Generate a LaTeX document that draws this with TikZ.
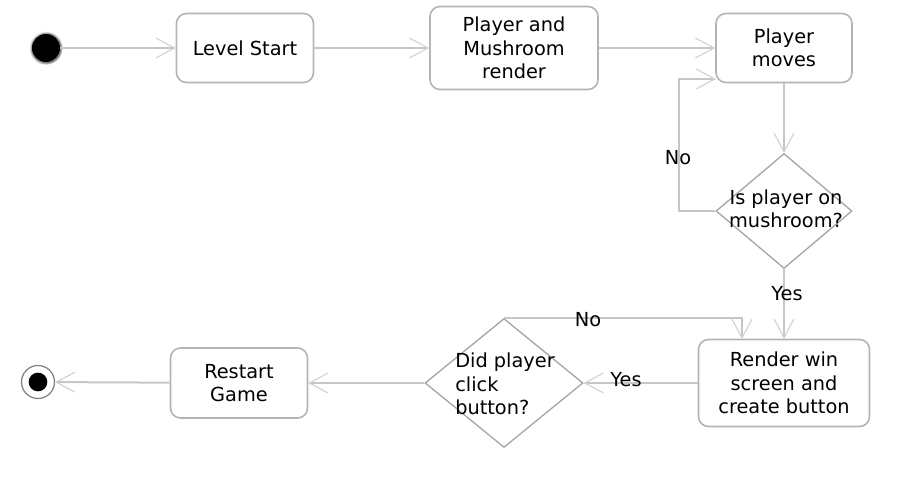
\documentclass[tikz,border=0pt]{standalone}
\usepackage{fontspec}
\setmainfont{DejaVu Sans}
\usetikzlibrary{shapes.geometric, arrows.meta, calc, shadows}

\definecolor{boxgray}{HTML}{B4B4B4}
\definecolor{linegray}{HTML}{C6C6C6}
\definecolor{tipgray}{HTML}{CFCFCF}
\definecolor{diagray}{HTML}{A6A6A6}

\begin{document}
\begin{tikzpicture}[
  x=0.75pt, y=-0.75pt,
  every node/.style={font=\fontsize{14.5}{17.6}\selectfont, align=center},
  state/.style={rectangle, rounded corners=7.5pt, draw=boxgray, line width=1.2pt,
    minimum width=102.75pt, minimum height=51.75pt, inner sep=0pt},
  decision/.style={diamond, draw=diagray, line width=1pt, inner sep=0pt},
  initial/.style={circle, fill=black, minimum size=21pt, inner sep=0pt,
    circular drop shadow={shadow xshift=0pt, shadow yshift=0pt, shadow scale=1.2}},
  final/.style={circle, draw=gray, line width=0.9pt, fill=white, minimum size=24.75pt,
    inner sep=0pt, path picture={\fill[black] (path picture bounding box.center) circle (7pt);}},
  flow/.style={draw=linegray, line width=1.5pt,
    -{Straight Barb[length=14pt, width=15pt, line width=0.8pt, color=tipgray]}}
]
\useasboundingbox (0,0) rectangle (903,477);

% top row
\node[initial] (start) at (46,48) {};
\node[state] (ls) at (245,48) {Level Start};
\node[state, minimum width=126pt, minimum height=62.25pt] (pmr) at (514,48) {Player and\\Mushroom\\render};
\node[state, minimum width=102pt] (pm) at (784,48) {Player\\moves};

% first decision
\node[decision, minimum width=102pt, minimum height=86.25pt] (onm) at (784,211) {};
\node (onmtxt) at (786,209) {Is player on\\mushroom?};
\coordinate (noin) at (716,79);

% bottom row
\node[state, minimum width=128.25pt, minimum height=65.25pt] (rw) at (784,383) {Render win\\screen and\\create button};
\node[decision, minimum width=118.5pt, minimum height=96.75pt] (click) at (504,383) {};
\node[anchor=west, align=left, inner sep=0pt] (clicktxt) at (455,384) {Did player\\click\\button?};
\coordinate (noin2) at (742,339);
\node[state, minimum height=52.5pt] (rs) at (239,383) {Restart\\Game};
\node[final] (end) at (38,382) {};

% connectors
\draw[flow] (start) -- (ls);
\draw[flow] (ls) -- (pmr);
\draw[flow] (pmr) -- (pm);
\draw[flow] (pm) -- (onm);
\draw[flow] (onm.west) -- ++(-36,0) |- (noin);
\draw[flow] (onm) -- (rw);
\draw[flow] (rw) -- (click);
\draw[flow] (click.north) -| (noin2);
\draw[flow] (click) -- (rs);
\draw[flow] (rs) -- (end);

% labels
\node (no1) at (678,158) {No};
\node (yes1) at (787,294) {Yes};
\node (no2) at (588,320) {No};
\node (yes2) at (626,380) {Yes};
\end{tikzpicture}
\end{document}
